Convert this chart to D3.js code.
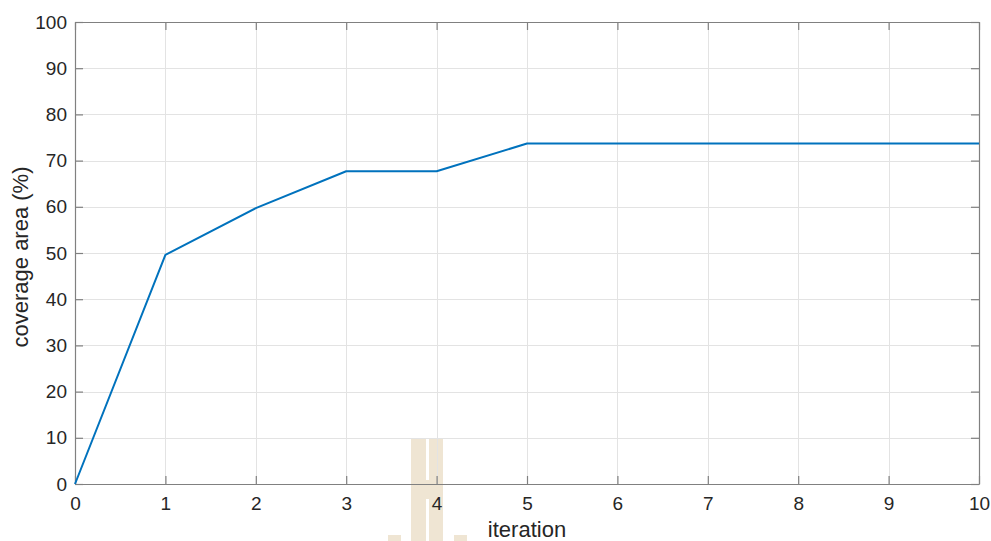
<!DOCTYPE html>
<html>
<head>
<meta charset="utf-8">
<script src="https://cdn.jsdelivr.net/npm/d3@7"></script>
<style>
  html, body { margin: 0; padding: 0; background: #fff; }
  svg { display: block; font-family: "Liberation Sans", Arial, Helvetica, sans-serif; }
</style>
</head>
<body>
<svg id="chart" width="991" height="541"></svg>
<script>
// Coverage area reached after each iteration
const iterations = [0, 1, 2, 3, 4, 5, 6, 7, 8, 9, 10];
const coverage = [0, 49.6, 59.7, 67.7, 67.7, 73.7, 73.7, 73.7, 73.7, 73.7, 73.7];
const xTicks = [0, 1, 2, 3, 4, 5, 6, 7, 8, 9, 10];
const yTicks = [0, 10, 20, 30, 40, 50, 60, 70, 80, 90, 100];

const W = 991, H = 541;
const margin = { left: 75, right: 12, top: 22, bottom: 57 };
const svg = d3.select("#chart");

const x = d3.scaleLinear().domain([0, 10]).range([margin.left, W - margin.right]);
const y = d3.scaleLinear().domain([0, 100]).range([H - margin.bottom, margin.top]);

const axisColor = "#808080";
const textColor = "#262626";
const gridColor = "#e3e3e3";

// faint emblem behind the axes
const mark = svg.append("g").attr("fill", "#efe5d3");
mark.append("rect").attr("x", 411).attr("y", 438).attr("width", 32).attr("height", 103);
mark.append("rect").attr("x", 388).attr("y", 535).attr("width", 13).attr("height", 6);
mark.append("rect").attr("x", 454).attr("y", 535).attr("width", 13).attr("height", 6);
svg.append("rect").attr("x", 426).attr("y", 438).attr("width", 3).attr("height", 42).attr("fill", "#fff");
svg.append("rect").attr("x", 426).attr("y", 499).attr("width", 3).attr("height", 42).attr("fill", "#fff");

// grid
const grid = svg.append("g").attr("stroke", gridColor).attr("stroke-width", 1);
grid.selectAll(".gx").data(xTicks.slice(1, -1)).join("line")
  .attr("x1", d => Math.round(x(d)) + 0.5).attr("x2", d => Math.round(x(d)) + 0.5)
  .attr("y1", y(100)).attr("y2", y(0));
grid.selectAll(".gy").data(yTicks.slice(1, -1)).join("line")
  .attr("x1", x(0)).attr("x2", x(10))
  .attr("y1", d => Math.round(y(d)) + 0.5).attr("y2", d => Math.round(y(d)) + 0.5);

// axes (box with inward ticks on all four sides)
function styleAxis(g) {
  g.select(".domain").attr("stroke", axisColor).attr("stroke-width", 1.2);
  g.selectAll(".tick line").attr("stroke", axisColor).attr("stroke-width", 1.2);
  g.selectAll(".tick text").attr("fill", textColor).attr("font-size", 19);
}
svg.append("g").attr("transform", `translate(0,${y(0)})`)
  .call(d3.axisBottom(x).tickValues(xTicks).tickFormat(d3.format("d")).tickSizeInner(-8).tickSizeOuter(0).tickPadding(13))
  .call(styleAxis);
svg.append("g").attr("transform", `translate(0,${y(100)})`)
  .call(d3.axisTop(x).tickValues(xTicks).tickFormat("").tickSizeInner(-8).tickSizeOuter(0))
  .call(styleAxis);
svg.append("g").attr("transform", `translate(${x(0)},0)`)
  .call(d3.axisLeft(y).tickValues(yTicks).tickFormat(d3.format("d")).tickSizeInner(-8).tickSizeOuter(0).tickPadding(8))
  .call(styleAxis);
svg.append("g").attr("transform", `translate(${x(10)},0)`)
  .call(d3.axisRight(y).tickValues(yTicks).tickFormat("").tickSizeInner(-8).tickSizeOuter(0))
  .call(styleAxis);

// coverage curve
svg.append("path")
  .datum(iterations.map((d, i) => [d, coverage[i]]))
  .attr("fill", "none")
  .attr("stroke", "#0072BD")
  .attr("stroke-width", 2)
  .attr("stroke-linejoin", "round")
  .attr("d", d3.line().x(d => x(d[0])).y(d => y(d[1])));

// axis titles
svg.append("text")
  .attr("x", (x(0) + x(10)) / 2).attr("y", 537)
  .attr("text-anchor", "middle").attr("font-size", 22).attr("fill", textColor)
  .text("iteration");
svg.append("text")
  .attr("transform", `translate(28,${(y(0) + y(100)) / 2 + 4}) rotate(-90)`)
  .attr("text-anchor", "middle").attr("font-size", 22).attr("fill", textColor)
  .text("coverage area (%)");
</script>
</body>
</html>
